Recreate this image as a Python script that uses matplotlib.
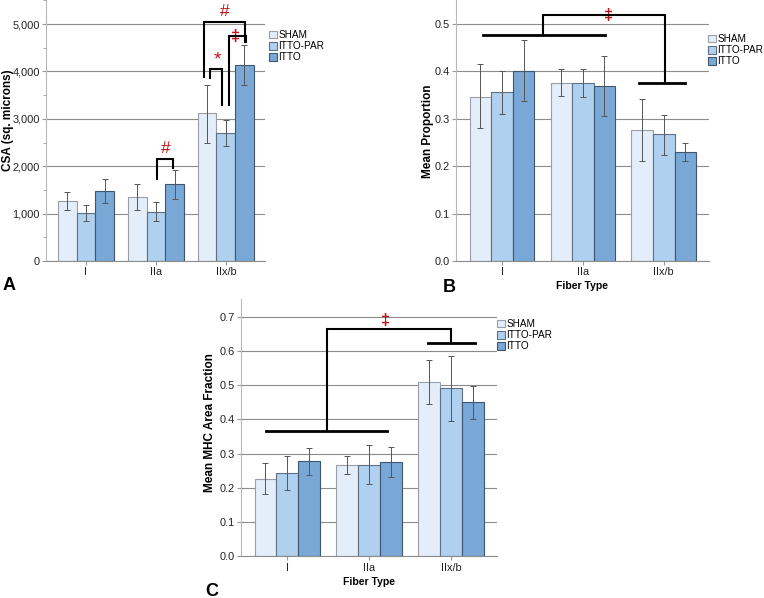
import numpy as np
import matplotlib.pyplot as plt
import matplotlib.transforms as mtransforms

plt.rcParams['font.family'] = ['Liberation Sans', 'DejaVu Sans']

fiber_types = ['I', 'IIa', 'IIx/b']
groups = ['SHAM', 'ITTO-PAR', 'ITTO']
colors = ['#e3eefa', '#afd0ee', '#79a8d6']
edges = ['#9a9ea6', '#5f7082', '#3f5670']

# panel A: CSA (sq. microns)
csa_mean = [[1270, 1355, 3113], [1010, 1043, 2695], [1480, 1617, 4142]]
csa_lo = [[1085, 1085, 2500], [840, 850, 2418], [1230, 1310, 3723]]
csa_hi = [[1460, 1630, 3723], [1180, 1250, 2986], [1740, 1915, 4560]]

# panel B: mean proportion
prop_mean = [[0.347, 0.376, 0.277], [0.357, 0.376, 0.267], [0.402, 0.369, 0.230]]
prop_lo = [[0.280, 0.349, 0.211], [0.311, 0.346, 0.224], [0.337, 0.306, 0.211]]
prop_hi = [[0.415, 0.405, 0.342], [0.402, 0.406, 0.309], [0.466, 0.432, 0.248]]

# panel C: mean MHC area fraction
area_mean = [[0.227, 0.266, 0.509], [0.243, 0.268, 0.491], [0.2775, 0.2745, 0.450]]
area_lo = [[0.181, 0.240, 0.444], [0.195, 0.211, 0.394], [0.239, 0.231, 0.400]]
area_hi = [[0.272, 0.292, 0.5735], [0.292, 0.324, 0.585], [0.316, 0.320, 0.4975]]

W, H = 764, 598
fig = plt.figure(figsize=(W / 100, H / 100), dpi=100)

bw = 0.267
x = np.arange(len(fiber_types))


def panel(rect, mean, lo, hi, ylim, ticks, fmt, ylabel, label_xy, xlabel, minor=None):
    l, t, r, b = rect
    ax = fig.add_axes([l / W, 1 - b / H, (r - l) / W, (b - t) / H])
    for i in range(3):
        m = np.array(mean[i])
        err = [m - np.array(lo[i]), np.array(hi[i]) - m]
        ax.bar(x + (i - 1) * bw, m, bw, color=colors[i], edgecolor=edges[i],
               linewidth=0.8, zorder=2, label=groups[i])
        ax.errorbar(x + (i - 1) * bw, m, yerr=err, fmt='none', ecolor='#555555',
                    elinewidth=0.7, capsize=2.2, capthick=0.7, zorder=3)
    ax.set_xlim(-0.57, 2.56)
    ax.set_ylim(*ylim)
    ax.set_yticks(ticks)
    ax.set_yticklabels([fmt(v) for v in ticks], fontsize=7.9, color='#222222')
    if minor is not None:
        ax.set_yticks(minor, minor=True)
        ax.tick_params(axis='y', which='minor', length=2, color='#999999')
    ax.set_xticks(x)
    ax.set_xticklabels(fiber_types, fontsize=7.9, color='#222222')
    ax.tick_params(axis='both', which='major', length=3, color='#999999', pad=1.5)
    ax.yaxis.grid(True, color='#8c8c8c', linewidth=0.8, zorder=0)
    ax.set_axisbelow(True)
    for s in ['top', 'right']:
        ax.spines[s].set_visible(False)
    ax.spines['left'].set_color('#b8b8b8')
    ax.spines['bottom'].set_color('#8c8c8c')
    ax.set_ylabel(ylabel, fontsize=8.5, fontweight='bold')
    # label x is the right-hand edge of the rotated text, in figure pixels
    tr = mtransforms.blended_transform_factory(fig.transFigure, ax.transAxes)
    ax.yaxis.set_label_coords(label_xy[0] / W, label_xy[1], transform=tr)
    if xlabel:
        ax.set_xlabel(xlabel, fontsize=7.5, fontweight='bold', labelpad=3)
    return ax


def bracket(ax, xs, ys, lw=1.5):
    ax.plot(xs, ys, color='black', linewidth=lw, clip_on=False, zorder=4,
            solid_joinstyle='miter')


red = '#c0141c'

# ---- A
axA = panel((46, -2, 265, 261), csa_mean, csa_lo, csa_hi, (0, 5550),
            [0, 1000, 2000, 3000, 4000, 5000], lambda v: f'{v:,.0f}',
            'CSA (sq. microns)', (14.5, 0.536), None, minor=np.arange(500, 5600, 1000))
bracket(axA, [1.01, 1.01, 1.247, 1.247], [1723, 2163, 2163, 1972])
axA.text(1.14, 2220, '#', color=red, fontsize=12.5, ha='center', va='bottom')
bracket(axA, [1.776, 1.776, 1.943, 1.943], [3865, 4043, 4043, 3298])
axA.text(1.88, 4060, '*', color=red, fontsize=14, ha='center', va='bottom')
bracket(axA, [2.04, 2.04, 2.286, 2.286], [3298, 4738, 4738, 4631])
axA.text(2.14, 4580, '‡', color=red, fontsize=12, fontweight='bold', ha='center', va='bottom')
bracket(axA, [1.695, 1.695, 2.28, 2.28], [3887, 5043, 5043, 4631])
axA.text(1.98, 5100, '#', color=red, fontsize=12.5, ha='center', va='bottom')

# ---- B
axB = panel((456, -2, 709, 261), prop_mean, prop_lo, prop_hi, (0, 0.555),
            [0, 0.1, 0.2, 0.3, 0.4, 0.5], lambda v: f'{v:.1f}',
            'Mean Proportion', (434, 0.494), 'Fiber Type')
bracket(axB, [-0.24, 1.27], [0.4765, 0.4765], lw=2)
bracket(axB, [0.506, 0.506, 2.01, 2.01], [0.4765, 0.52, 0.52, 0.3755])
bracket(axB, [1.69, 2.26], [0.3755, 0.3755], lw=2)
axB.text(1.32, 0.503, '‡', color=red, fontsize=12, fontweight='bold', ha='center', va='bottom')

# ---- C
axC = panel((240.7, 299, 496.7, 556.3), area_mean, area_lo, area_hi, (0, 0.752),
            [0, 0.1, 0.2, 0.3, 0.4, 0.5, 0.6, 0.7], lambda v: f'{v:.1f}',
            'Mean MHC Area Fraction', (216, 0.52), 'Fiber Type')
bracket(axC, [-0.26, 1.22], [0.367, 0.367], lw=2)
bracket(axC, [0.48, 0.48, 2.005, 2.005], [0.367, 0.663, 0.663, 0.624])
bracket(axC, [1.718, 2.29], [0.624, 0.624], lw=2)
axC.text(1.2, 0.668, '‡', color=red, fontsize=12, fontweight='bold', ha='center', va='bottom')

# legends
for ax, (lx, ly) in [(axA, (269, 30)), (axB, (708, 34)), (axC, (497, 319))]:
    ax.legend(loc='upper left', bbox_to_anchor=(lx / W, 1 - ly / H),
              bbox_transform=fig.transFigure, frameon=False, fontsize=7.2,
              handlelength=0.8, handleheight=0.8, handletextpad=0.15,
              labelspacing=0.12, borderpad=0, borderaxespad=0)

# panel letters
fig.text(3 / W, 1 - 286 / H, 'A', fontsize=13, fontweight='bold', va='center', ha='left')
fig.text(443 / W, 1 - 287 / H, 'B', fontsize=13, fontweight='bold', va='center', ha='left')
fig.text(205 / W, 1 - 591 / H, 'C', fontsize=13, fontweight='bold', va='center', ha='left')

fig.savefig('out.png', dpi=100)
